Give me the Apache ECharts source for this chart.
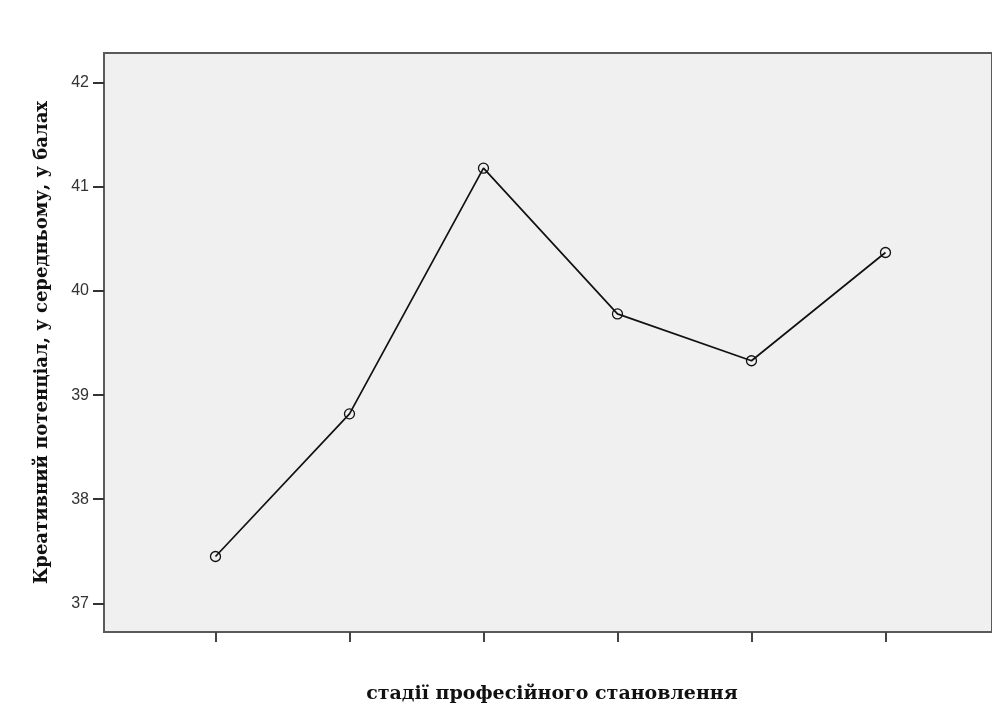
<!DOCTYPE html>
<html>
<head>
<meta charset="utf-8">
<script src="https://cdn.jsdelivr.net/npm/echarts@6/dist/echarts.min.js"></script>
<style>
html,body{margin:0;padding:0;background:#fff;}
#c{width:992px;height:709px;}
</style>
</head>
<body>
<div id="c"></div>
<script>
var stagePositions = [0, 1, 2, 3, 4, 5];
var meanScores = [37.45, 38.82, 41.18, 39.78, 39.33, 40.37];
var yTicks = [37, 38, 39, 40, 41, 42];
var xTitle = 'стадії професійного становлення';
var yTitle = 'Креативний потенціал, у середньому, у балах';

var chart = echarts.init(document.getElementById('c'), null, {renderer: 'canvas'});
var seriesData = stagePositions.map(function (x, i) { return [x, meanScores[i]]; });

chart.setOption({
  animation: false,
  grid: {
    left: 104, top: 53, width: 893, height: 582,
    show: true, backgroundColor: '#f0f0f0', borderColor: '#5a5a5a', borderWidth: 2
  },
  xAxis: {
    type: 'value', min: -0.832, max: 5.795,
    name: xTitle, nameLocation: 'middle', nameGap: 53,
    nameTextStyle: {fontFamily: 'DejaVu Serif', fontWeight: 'bold', fontSize: 19, color: '#111', padding: [0, 0, 0, 8]},
    axisLine: {show: true, onZero: false, lineStyle: {color: '#5a5a5a', width: 2}},
    axisTick: {show: true, length: 10, customValues: stagePositions, lineStyle: {color: '#444', width: 2}},
    axisLabel: {show: false},
    splitLine: {show: false}
  },
  yAxis: {
    type: 'value', min: 36.725, max: 42.286,
    name: yTitle, nameLocation: 'middle', nameGap: 53, nameRotate: 90,
    nameTextStyle: {fontFamily: 'DejaVu Serif', fontWeight: 'bold', fontSize: 18, color: '#111'},
    axisLine: {show: true, onZero: false, lineStyle: {color: '#5a5a5a', width: 2}},
    axisTick: {show: true, length: 11, customValues: yTicks, lineStyle: {color: '#333', width: 2}},
    axisLabel: {customValues: yTicks, margin: 15, fontFamily: 'Liberation Sans', fontSize: 16, color: '#333'},
    splitLine: {show: false}
  },
  series: [{
    type: 'line',
    data: seriesData,
    symbol: 'circle',
    symbolSize: 10,
    showAllSymbol: true,
    itemStyle: {color: 'rgba(0,0,0,0)', borderColor: '#111', borderWidth: 1.3},
    lineStyle: {color: '#111', width: 1.7}
  }]
});
</script>
</body>
</html>
